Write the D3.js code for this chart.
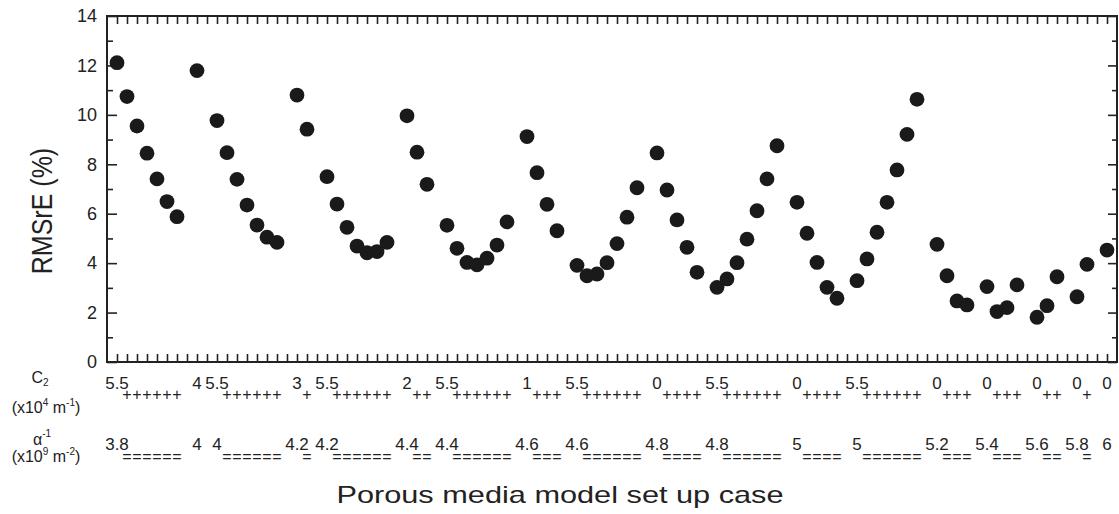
<!DOCTYPE html>
<html>
<head>
<meta charset="utf-8">
<script src="https://cdn.jsdelivr.net/npm/d3@7"></script>
<style>
  body { margin: 0; background: #fff; }
  svg { display: block; font-family: "Liberation Sans", Arial, sans-serif; }
</style>
</head>
<body>
<svg id="chart" width="1119" height="514"></svg>
<script>
// ---- data ----
const segStart = [1, 9, 11, 19, 22, 30, 34, 42, 47, 55, 61, 69, 75, 83, 88, 93, 97, 100];
const segC2    = ["5.5","4","5.5","3","5.5","2","5.5","1","5.5","0","5.5","0","5.5","0","0","0","0","0"];
const segAlpha = ["3.8","4","4","4.2","4.2","4.4","4.4","4.6","4.6","4.8","4.8","5","5","5.2","5.4","5.6","5.8","6"];
const segRMSrE = [
  [12.11, 10.74, 9.55, 8.45, 7.41, 6.49, 5.88],
  [11.79],
  [9.77, 8.47, 7.39, 6.35, 5.54, 5.05, 4.84],
  [10.80, 9.42],
  [7.50, 6.39, 5.45, 4.69, 4.42, 4.47, 4.84],
  [9.96, 8.49, 7.19],
  [5.53, 4.60, 4.03, 3.93, 4.20, 4.73, 5.67],
  [9.12, 7.66, 6.38, 5.31],
  [3.91, 3.49, 3.56, 4.02, 4.79, 5.86, 7.05],
  [8.46, 6.96, 5.75, 4.64, 3.63],
  [3.02, 3.36, 4.02, 4.97, 6.12, 7.41, 8.75],
  [6.46, 5.21, 4.03, 3.02, 2.58],
  [3.29, 4.17, 5.25, 6.46, 7.77, 9.21, 10.63],
  [4.76, 3.49, 2.47, 2.31],
  [3.05, 2.04, 2.20, 3.12],
  [1.81, 2.28, 3.45],
  [2.64, 3.95],
  [4.53]
];
const yMajorTicks = [0, 2, 4, 6, 8, 10, 12, 14];
const yMinorTicks = [1, 3, 5, 7, 9, 11, 13];
const xDomain = [0, 101];
const yDomain = [0, 14];

// ---- derived points ----
const points = [];
const c2Marks = [];
const alphaMarks = [];
segRMSrE.forEach((vals, s) => {
  vals.forEach((v, k) => {
    const i = segStart[s] + k;
    points.push({ i, v });
    c2Marks.push({ i, t: k === 0 ? segC2[s] : "+", first: k === 0 });
    alphaMarks.push({ i, t: k === 0 ? segAlpha[s] : "=", first: k === 0 });
  });
});

// ---- layout ----
const L = 107, R = 1117, T = 16, B = 362;
const svg = d3.select("#chart");
const x = d3.scaleLinear().domain(xDomain).range([L, R]);
const y = d3.scaleLinear().domain(yDomain).range([B, T]);
const xTickVals = d3.range(1, 101);
const FONT = "Liberation Sans, Arial, sans-serif";

function styleAxis(g) {
  g.select(".domain").remove();
  g.selectAll(".tick line").attr("stroke", "#222").attr("stroke-width", 1.6);
  g.selectAll(".tick text").attr("fill", "#222");
}

// left major
svg.append("g").attr("transform", `translate(${L},0)`)
  .call(d3.axisLeft(y).tickValues(yMajorTicks).tickSize(-10).tickPadding(10).tickFormat(d3.format("d")))
  .call(styleAxis)
  .call(g => g.selectAll(".tick text").attr("font-size", 18).attr("font-family", FONT));
// left minor
svg.append("g").attr("transform", `translate(${L},0)`)
  .call(d3.axisLeft(y).tickValues(yMinorTicks).tickSize(-6).tickFormat(""))
  .call(styleAxis);
// right major/minor
svg.append("g").attr("transform", `translate(${R},0)`)
  .call(d3.axisRight(y).tickValues(yMajorTicks).tickSize(-9).tickFormat(""))
  .call(styleAxis);
svg.append("g").attr("transform", `translate(${R},0)`)
  .call(d3.axisRight(y).tickValues(yMinorTicks).tickSize(-5).tickFormat(""))
  .call(styleAxis);
// bottom & top x ticks
svg.append("g").attr("transform", `translate(0,${B})`)
  .call(d3.axisBottom(x).tickValues(xTickVals).tickSize(-8).tickFormat(""))
  .call(styleAxis);
svg.append("g").attr("transform", `translate(0,${T})`)
  .call(d3.axisTop(x).tickValues(xTickVals).tickSize(-8).tickFormat(""))
  .call(styleAxis);

// frame
svg.append("rect").attr("x", L).attr("y", T).attr("width", R - L).attr("height", B - T)
  .attr("fill", "none").attr("stroke", "#222").attr("stroke-width", 2);

// dots
svg.append("g").selectAll("circle").data(points).join("circle")
  .attr("cx", d => x(d.i)).attr("cy", d => y(d.v)).attr("r", 7.4)
  .attr("fill", "#1a1a1a");

// case labels
const lab = svg.append("g").attr("fill", "#222").attr("font-family", FONT);
lab.selectAll("text.c2").data(c2Marks).join("text").attr("class", "c2")
  .attr("x", d => x(d.i)).attr("y", d => d.first ? 389 : 400)
  .attr("text-anchor", "middle").attr("font-size", d => d.first ? 17 : 16).text(d => d.t);
lab.selectAll("text.al").data(alphaMarks).join("text").attr("class", "al")
  .attr("x", d => x(d.i)).attr("y", d => d.first ? 450 : 462)
  .attr("text-anchor", "middle").attr("font-size", d => d.first ? 17 : 16).text(d => d.t);

// left row titles
const rt = svg.append("g").attr("fill", "#222").attr("font-family", FONT).attr("text-anchor", "middle");
const c2t = rt.append("text").attr("x", 40).attr("y", 383).attr("font-size", 16);
c2t.append("tspan").text("C");
c2t.append("tspan").attr("font-size", 10).attr("dy", 3).text("2");
const c2u = rt.append("text").attr("x", 46).attr("y", 413).attr("font-size", 16);
c2u.append("tspan").text("(x10");
c2u.append("tspan").attr("font-size", 10).attr("dy", -7).text("4");
c2u.append("tspan").attr("dy", 7).text(" m");
c2u.append("tspan").attr("font-size", 10).attr("dy", -7).text("-1");
c2u.append("tspan").attr("dy", 7).text(")");
const at = rt.append("text").attr("x", 42).attr("y", 445).attr("font-size", 16);
at.append("tspan").text("α");
at.append("tspan").attr("font-size", 10).attr("dy", -8).text("-1");
const au = rt.append("text").attr("x", 46).attr("y", 462).attr("font-size", 16);
au.append("tspan").text("(x10");
au.append("tspan").attr("font-size", 10).attr("dy", -7).text("9");
au.append("tspan").attr("dy", 7).text(" m");
au.append("tspan").attr("font-size", 10).attr("dy", -7).text("-2");
au.append("tspan").attr("dy", 7).text(")");

// axis titles
svg.append("text").attr("transform", `translate(52,211) scale(1.15,1) rotate(-90)`)
  .attr("text-anchor", "middle").attr("font-size", 25).attr("fill", "#222")
  .attr("font-family", FONT)
  .text("RMSrE (%)");
svg.append("text").attr("transform", `translate(560,503) scale(1.28,1)`)
  .attr("text-anchor", "middle").attr("font-size", 24).attr("fill", "#222")
  .attr("font-family", FONT)
  .text("Porous media model set up case");
</script>
</body>
</html>
